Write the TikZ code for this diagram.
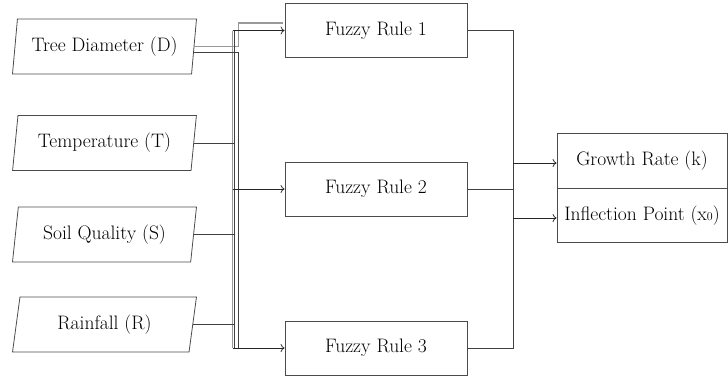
\documentclass[tikz,border=0pt]{standalone}
\usetikzlibrary{shapes.geometric,arrows.meta}
\begin{document}
\begin{tikzpicture}[x=1pt,y=-1pt,
  every node/.style={font=\fontsize{19.5}{23}\selectfont},
  inbox/.style={draw=black!70, line width=0.8pt, trapezium, trapezium left angle=78,
    trapezium right angle=102, trapezium stretches=true,
    minimum width=184pt, minimum height=55pt, inner sep=0pt},
  rulebox/.style={draw=black!70, line width=0.8pt, rectangle,
    minimum width=182pt, minimum height=54pt, inner sep=0pt},
  outbox/.style={draw=black!70, line width=0.8pt, rectangle,
    minimum width=170pt, minimum height=54.5pt, inner sep=0pt},
  wire/.style={draw=black!75, line width=0.75pt},
  ghost/.style={draw=black!40, line width=1.4pt},
  arr/.style={draw=black!85, line width=0.75pt, -{To[length=4pt,width=8pt]}}
]
\useasboundingbox (0,0) rectangle (728,378);

% inputs
\node[inbox] (D) at (104.5,46.5) {Tree Diameter (D)};
\node[inbox] (T) at (104.5,143) {Temperature (T)};
\node[inbox] (S) at (104.5,234.5) {Soil Quality (S)};
\node[inbox] (R) at (104.5,324.5) {Rainfall (R)};

% rules
\node[rulebox] (R1) at (376,30.5) {Fuzzy Rule 1};
\node[rulebox] (R2) at (376,189) {Fuzzy Rule 2};
\node[rulebox] (R3) at (376,348) {Fuzzy Rule 3};

% outputs
\node[outbox] (G) at (642,161) {Growth Rate (k)};
\node[outbox] (I) at (642,215.5) {Inflection Point (x{\fontsize{12}{12}\selectfont 0})};

% bus coordinates
\coordinate (busL) at (232.5,0);
\coordinate (busM) at (234.5,0);
\coordinate (busR) at (238.3,0);
\coordinate (busO) at (513,0);

% input side bus
\draw[ghost] (R1.west -| busL) -- (R3.west -| busL);
\draw[ghost] (D.east) -| ([yshift=7.5pt]R1.west -| busR) -- ([yshift=7.5pt,xshift=-2pt]R1.west);
\draw[wire] ([yshift=-5.5pt]D.east) -| (R3.west -| busR);
\draw[wire] (R1.west -| busM) -- (R3.west -| busM);
\draw[wire] (T.east) -- (T.east -| busM);
\draw[wire] (S.east) -- (S.east -| busM);
\draw[wire] (R.east) -- (R.east -| busM);

\draw[arr] (R1.west -| busL) -- (R1.west);
\draw[arr] (R2.west -| busL) -- (R2.west);
\draw[arr] (R3.west -| busL) -- (R3.west);

% output side bus
\draw[wire] (R1.east) -- (R1.east -| busO) -- (R3.east -| busO) -- (R3.east);
\draw[wire] (R2.east) -- (R2.east -| busO);
\draw[arr] ([yshift=-2pt]G.west -| busO) -- ([yshift=-2pt]G.west);
\draw[arr] ([yshift=-2.5pt]I.west -| busO) -- ([yshift=-2.5pt]I.west);
\end{tikzpicture}
\end{document}
